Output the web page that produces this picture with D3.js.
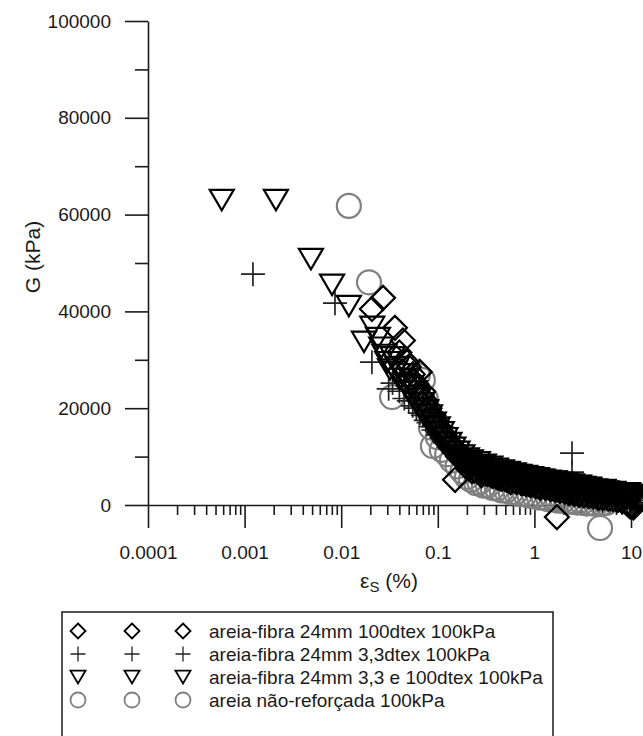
<!DOCTYPE html>
<html>
<head>
<meta charset="utf-8">
<script src="https://cdn.jsdelivr.net/npm/d3@7"></script>
<style>
  body { margin: 0; background: #fff; }
  text { font-family: "Liberation Sans", Arial, sans-serif; fill: #1a1a1a; }
</style>
</head>
<body>
<svg id="chart" width="643" height="736"></svg>
<script>
// shear strain (%) , G (kPa)
const seriesNames = [
  "areia-fibra 24mm 100dtex 100kPa",
  "areia-fibra 24mm 3,3dtex 100kPa",
  "areia-fibra 24mm 3,3 e 100dtex 100kPa",
  "areia não-reforçada 100kPa"
];

const diamondPts = [
  [0.0208, 40500], [0.0271, 42800], [0.036, 36600], [0.0435, 34000], [0.048, 29500],
  [0.055, 27000], [0.065, 27500], [0.06, 25000], [0.07, 23500], [0.075, 21500],
  [0.082, 20000], [0.09, 18500], [0.098, 17200], [0.107, 15800], [0.117, 14500],
  [0.128, 13300], [0.151, 5200], [0.14, 12300], [0.155, 11300], [0.17, 10400],
  [0.19, 9600], [0.21, 8800], [0.23, 7600], [0.26, 7200], [0.29, 6700], [0.33, 6400],
  [0.37, 6000], [0.41, 5700], [0.46, 5400], [0.52, 5200], [0.58, 4900], [0.65, 4700],
  [0.73, 4500], [0.82, 4300], [0.92, 4100], [1.03, 3900], [1.16, 3700], [1.3, 3500],
  [1.46, 3300], [1.71, -2500], [1.64, 3100], [1.84, 2900], [2.06, 2700], [2.3, 2500],
  [2.6, 2300], [2.9, 2100], [3.25, 2000], [3.65, 1800], [4.1, 1700], [4.6, 1500],
  [5.15, 1400], [5.8, 1300], [6.5, 1200], [7.3, 1100], [8.2, 900], [9.2, 500],
  [10.3, 0], [10.8, 800],
  [0.04, 31500], [0.05, 28500], [0.057, 25500], [0.062, 24000], [0.068, 22500],
  [0.074, 20500], [0.08, 19000], [0.088, 17500], [0.096, 16500], [0.104, 15000],
  [0.112, 14000], [0.122, 13000], [0.134, 12000], [0.148, 11000], [0.162, 10000],
  [0.18, 9200], [0.24, 7300], [0.28, 6900], [0.32, 6500], [0.37, 6100], [0.43, 5700],
  [0.5, 5400], [0.57, 5100], [0.66, 4800], [0.76, 4600], [0.87, 4400], [1.0, 4100],
  [1.15, 3900], [1.32, 3700], [1.52, 3400], [1.75, 3200], [2.0, 3000], [2.3, 2800],
  [2.65, 2600], [3.05, 2400], [3.5, 2200], [4.0, 2000], [4.6, 1800], [5.3, 1600],
  [6.1, 1400], [7.0, 1200], [8.0, 900], [9.0, 400], [9.8, -300], [10.6, -500],
  [0.225, 7000], [0.252, 7300], [0.283, 6130], [0.318, 6580], [0.357, 6140],
  [0.4, 6400], [0.45, 5500], [0.505, 5800], [0.568, 4700], [0.64, 5180], [0.72, 4750],
  [0.81, 5030], [0.91, 4120], [1.02, 4580], [1.15, 3510], [1.29, 4050], [1.45, 3680],
  [1.62, 4020], [1.82, 3150], [2.05, 3580], [2.3, 2510], [2.59, 3040], [2.9, 2680],
  [3.26, 3010], [3.66, 2140], [4.12, 2560], [4.62, 1480], [5.2, 2000], [5.83, 1620],
  [6.55, 1960], [7.36, 1100], [8.27, 1000], [9.3, 200], [9.85, 300], [10.4, -200]
];

const plusPts = [
  [0.00122, 47700], [0.00862, 41700], [0.0208, 29500], [0.031, 24000], [0.034, 25200],
  [0.045, 22000], [0.055, 20500], [0.065, 19000], [0.075, 17500], [0.085, 16200],
  [0.1, 14500], [0.115, 13200], [0.13, 12000], [0.15, 11000], [0.17, 10000],
  [0.2, 9100], [0.22, 9300], [0.25, 8700], [0.28, 8300], [0.32, 7900], [0.36, 7500],
  [0.41, 7200], [0.46, 6900], [0.52, 6600], [0.58, 6400], [0.65, 6200], [0.73, 6000],
  [0.82, 5800], [0.92, 5600], [1.03, 5400], [1.15, 5300], [1.29, 5100], [1.44, 4900],
  [1.61, 4800], [1.8, 4600], [2.0, 4500], [2.2, 4400], [2.45, 10700], [2.45, 6800],
  [2.5, 4200], [2.8, 4000], [3.1, 3700], [3.5, 3300], [3.9, 3000], [4.4, 2700],
  [4.9, 2500], [5.5, 2300], [6.1, 2200], [6.8, 2100], [7.6, 2000], [8.5, 1900],
  [9.5, 1800], [10.4, 1700],
  [0.04, 23500], [0.05, 21500], [0.06, 20000], [0.07, 18500], [0.08, 17000],
  [0.09, 15500], [0.11, 13800], [0.12, 12800], [0.14, 11500], [0.16, 10500],
  [0.18, 9700], [0.21, 8600], [0.24, 8100], [0.27, 7600], [0.3, 7200], [0.34, 6900],
  [0.39, 6500], [0.44, 6200], [0.49, 5900], [0.55, 5700], [0.62, 5400], [0.69, 5200],
  [0.78, 5000], [0.87, 4800], [0.98, 4600], [1.1, 4400], [1.24, 4200], [1.38, 4000],
  [1.55, 3800], [1.74, 3600], [1.95, 3400], [2.2, 3200], [2.6, 3000], [2.95, 2800],
  [3.3, 2600], [3.75, 2400], [4.2, 2200], [4.7, 2000], [5.2, 1900], [5.9, 1700],
  [6.6, 1600], [7.3, 1500], [8.1, 1300], [8.9, 1000], [9.7, 700], [10.2, 300], [10.7, 1000],
  [0.212, 8650], [0.238, 7550], [0.267, 8370], [0.3, 7300], [0.337, 7360], [0.379, 6320],
  [0.425, 7100], [0.477, 6050], [0.536, 6900], [0.6, 5900], [0.68, 5960], [0.76, 4950],
  [0.86, 5720], [0.96, 4740], [1.08, 5700], [1.22, 4730], [1.37, 4860], [1.53, 3900],
  [1.72, 4730], [1.93, 3760], [2.17, 4700], [2.44, 3730], [2.74, 3860], [3.08, 2890],
  [3.46, 3720], [3.88, 2760], [4.36, 3400], [4.9, 2690], [5.5, 2600], [6.18, 1840],
  [6.95, 2300], [7.8, 1750], [8.77, 2100], [9.85, 1500], [10.9, 1600]
];

const trianglePts = [
  [0.00058, 63000], [0.00211, 63000], [0.00486, 50800], [0.00804, 45500], [0.012, 41100],
  [0.0172, 33700], [0.021, 36800], [0.024, 34500], [0.028, 31000], [0.032, 28000],
  [0.036, 27500], [0.04, 26000], [0.045, 25000], [0.05, 23500], [0.055, 22500],
  [0.06, 21000], [0.066, 20000], [0.072, 18800], [0.079, 17500], [0.087, 16300],
  [0.095, 15200], [0.105, 14000], [0.115, 13000], [0.127, 12000], [0.14, 11000],
  [0.155, 10200], [0.17, 9500], [0.19, 8900], [0.21, 8400], [0.23, 8200], [0.25, 7800],
  [0.27, 7700], [0.29, 7300], [0.31, 7200], [0.34, 6800], [0.37, 6700], [0.4, 6400],
  [0.43, 6300], [0.47, 6000], [0.51, 5900], [0.55, 5600], [0.6, 5600], [0.65, 5300],
  [0.7, 5300], [0.76, 5000], [0.82, 5100], [0.89, 4800], [0.96, 4800], [1.04, 4500],
  [1.12, 4600], [1.21, 4300], [1.31, 4300], [1.42, 4000], [1.54, 4100], [1.67, 3800],
  [1.8, 3800], [1.95, 3500], [2.1, 3600], [2.28, 3300], [2.46, 3300], [2.66, 3000],
  [2.88, 3100], [3.1, 2800], [3.36, 2800], [3.63, 2600], [3.93, 2600], [4.25, 2400],
  [4.6, 2400], [4.97, 2200], [5.38, 2300], [5.82, 2100], [6.3, 2100], [6.8, 1900],
  [7.36, 2000], [7.96, 1800], [8.6, 1800], [9.3, 1600], [10.0, 1700], [10.5, 1300],
  [0.026, 32500], [0.03, 29500], [0.034, 30500], [0.038, 28500], [0.043, 27000],
  [0.048, 26000], [0.053, 24500], [0.058, 23500], [0.063, 22000], [0.069, 21000],
  [0.076, 19500], [0.083, 18500], [0.091, 17000], [0.1, 16000], [0.11, 15000],
  [0.12, 13800], [0.132, 12800], [0.145, 11800], [0.16, 11000], [0.18, 10200],
  [0.2, 9600], [0.22, 9200], [0.26, 8800], [0.3, 8300], [0.35, 7900], [0.4, 7500],
  [0.46, 7100], [0.53, 6800], [0.61, 6500], [0.7, 6200], [0.8, 6000], [0.92, 5700],
  [1.06, 5500], [1.22, 5200], [1.4, 5000], [1.6, 4800], [1.85, 4600], [2.12, 4400],
  [2.44, 4200], [2.8, 3900], [3.22, 3700], [3.7, 3400], [4.25, 3200], [4.9, 3000],
  [5.6, 2800], [6.45, 2600], [7.4, 2400], [8.5, 2300], [9.8, 2100], [10.6, 2000],
  [0.2, 8700], [0.212, 7350], [0.225, 7900], [0.238, 6750], [0.252, 7900], [0.267, 7070],
  [0.283, 7930], [0.3, 6400], [0.318, 7180], [0.337, 6760], [0.357, 7340], [0.379, 6020],
  [0.4, 6600], [0.425, 5500], [0.45, 6700], [0.477, 5850], [0.505, 6700], [0.536, 5200],
  [0.568, 6000], [0.6, 5600], [0.64, 6180], [0.68, 4860], [0.72, 5450], [0.76, 4350],
  [0.81, 5530], [0.86, 4720], [0.91, 5620], [0.96, 4140], [1.02, 4980], [1.08, 4600],
  [1.15, 5210], [1.22, 3930], [1.29, 4550], [1.37, 3460], [1.45, 4680], [1.53, 3900],
  [1.62, 4820], [1.72, 3330], [1.82, 4150], [1.93, 3760], [2.05, 4380], [2.17, 3100],
  [2.3, 3710], [2.44, 2630], [2.59, 3840], [2.74, 3060], [2.9, 3980], [3.08, 2490],
  [3.26, 3310], [3.46, 2920], [3.66, 3540], [3.88, 2260], [4.12, 2860], [4.36, 1770],
  [4.62, 2980], [4.9, 2190], [5.2, 3100], [5.5, 1610], [5.83, 2420], [6.18, 2040],
  [6.55, 2660], [6.95, 1380], [7.36, 2000], [7.8, 950], [8.27, 2200], [8.77, 1450],
  [9.3, 2400], [9.85, 950], [10.4, 1800], [10.9, 1450]
];

const circlePts = [
  [0.012, 61800], [0.0194, 46000], [0.0336, 22300], [0.062, 26800], [0.07, 25800],
  [0.075, 22000], [0.08, 19500], [0.085, 16000], [0.089, 12200], [0.1, 14000],
  [0.11, 11400], [0.125, 10500], [0.14, 9200], [0.16, 8000], [0.18, 6900],
  [0.2, 5800], [0.22, 5200], [0.25, 4500], [0.27, 4700], [0.3, 4000], [0.33, 4100],
  [0.37, 3500], [0.41, 3400], [0.46, 3000], [0.51, 3000], [0.57, 2600], [0.64, 2600],
  [0.71, 2200], [0.8, 2200], [0.89, 1900], [1.0, 1800], [1.12, 1500], [1.25, 1500],
  [1.4, 1200], [1.57, 1200], [1.76, 900], [1.97, 900], [2.2, 700], [2.47, 700],
  [2.77, 500], [3.1, 500], [3.47, 300], [3.9, 400], [4.35, 200], [4.78, -4750],
  [4.9, 300], [5.5, 400]
];

const xMajorTicks = [0.0001, 0.001, 0.01, 0.1, 1, 10];
const xTickLabels = ["0.0001", "0.001", "0.01", "0.1", "1", "10"];
const yMajorTicks = [0, 20000, 40000, 60000, 80000, 100000];
const yMinorTicks = [10000, 30000, 50000, 70000, 90000];

// marker styles, by series
const styles = [
  {shape: "diamond", stroke: "#000", width: 2.2},
  {shape: "plus", stroke: "#222", width: 1.7},
  {shape: "triangle", stroke: "#000", width: 2.2},
  {shape: "circle", stroke: "#808080", width: 2.2}
];
const seriesData = [diamondPts, plusPts, trianglePts, circlePts];

function markerPath(shape, r) {
  if (shape === "diamond") return `M0,${-r}L${r},0L0,${r}L${-r},0Z`;
  if (shape === "plus") return `M${-r},0H${r}M0,${-r}V${r}`;
  if (shape === "triangle") { const h = r * 0.85; return `M${-r},${-h}H${r}L0,${h}Z`; }
  return d3.symbol(d3.symbolCircle, Math.PI * r * r)();
}

const svg = d3.select("#chart");

const x = d3.scaleLog().domain([0.0001, 10]).range([148, 631]);
const y = d3.scaleLinear().domain([0, 100000]).range([505, 21]);

// minor x ticks: 2..9 within each decade
const xMinorTicks = [];
for (let e = -4; e < 1; e++) {
  for (let m = 2; m <= 9; m++) xMinorTicks.push(m * Math.pow(10, e));
}

// axes
const yAxisG = svg.append("g").attr("transform", `translate(${x(0.0001)},0)`);
yAxisG.call(d3.axisLeft(y).tickValues(yMajorTicks).tickSize(23).tickSizeOuter(0)
  .tickPadding(14).tickFormat(d3.format("d")));
const yMinorG = svg.append("g").attr("transform", `translate(${x(0.0001)},0)`);
yMinorG.call(d3.axisLeft(y).tickValues(yMinorTicks).tickSize(13).tickFormat(""));
yMinorG.select(".domain").remove();

const xAxisG = svg.append("g").attr("transform", `translate(0,${y(0)})`);
xAxisG.call(d3.axisBottom(x).tickValues(xMajorTicks).tickSize(23).tickSizeOuter(0)
  .tickPadding(18).tickFormat((d, i) => xTickLabels[i]));
const xMinorG = svg.append("g").attr("transform", `translate(0,${y(0)})`);
xMinorG.call(d3.axisBottom(x).tickValues(xMinorTicks).tickSize(10).tickFormat(""));
xMinorG.select(".domain").remove();

svg.selectAll(".domain, .tick line").attr("stroke", "#1a1a1a").attr("stroke-width", 1.6);
svg.selectAll(".tick text").attr("font-size", 19).attr("fill", "#1a1a1a")
  .style("font-family", "'Liberation Sans', Arial, sans-serif");

// axis titles
svg.append("text")
  .attr("transform", "translate(40,257) rotate(-90)")
  .attr("text-anchor", "middle")
  .attr("font-size", 21)
  .text("G (kPa)");

const xt = svg.append("text")
  .attr("x", 389).attr("y", 588)
  .attr("text-anchor", "middle")
  .attr("font-size", 21);
xt.append("tspan").text("ε");
xt.append("tspan").attr("font-size", 15).attr("dy", 4).text("S");
xt.append("tspan").attr("dy", -4).text(" (%)");

// marks: circles behind, then the fibre series
const drawOrder = [3, 0, 1, 2];
drawOrder.forEach(k => {
  const st = styles[k];
  svg.append("g").selectAll("path")
    .data(seriesData[k])
    .join("path")
    .attr("transform", d => `translate(${x(d[0])},${y(d[1])})`)
    .attr("d", markerPath(st.shape, 12))
    .attr("fill", "none")
    .attr("stroke", st.stroke)
    .attr("stroke-width", st.width);
});

// legend
const legend = svg.append("g");
legend.append("rect")
  .attr("x", 62).attr("y", 612).attr("width", 491).attr("height", 140)
  .attr("fill", "none").attr("stroke", "#1a1a1a").attr("stroke-width", 1.5);

const symbolCols = [78, 132, 183];
seriesNames.forEach((name, i) => {
  const cy = 631 + i * 23;
  const st = styles[i];
  symbolCols.forEach(cx => {
    legend.append("path")
      .attr("transform", `translate(${cx},${cy})`)
      .attr("d", markerPath(st.shape, 7.5))
      .attr("fill", "none")
      .attr("stroke", st.stroke)
      .attr("stroke-width", st.shape === "plus" ? 1.3 : 1.8);
  });
  legend.append("text")
    .attr("x", 209).attr("y", cy)
    .attr("dy", "0.35em")
    .attr("font-size", 19)
    .text(name);
});
</script>
</body>
</html>
